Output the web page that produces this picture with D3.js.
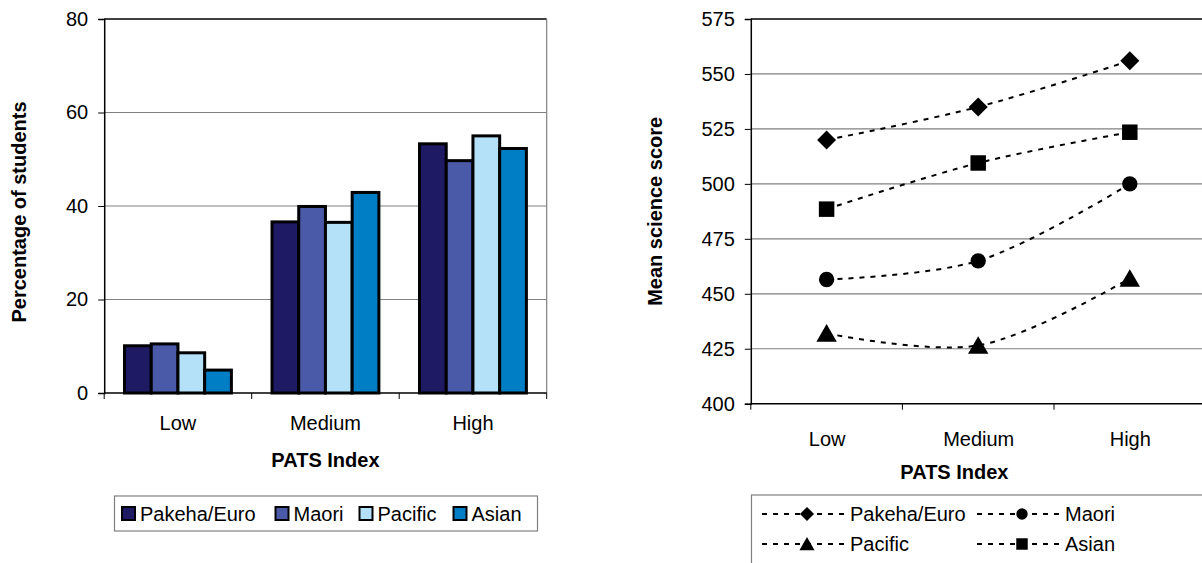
<!DOCTYPE html>
<html><head><meta charset="utf-8">
<script src="https://cdn.jsdelivr.net/npm/d3@7"></script>
<style>
body{margin:0;background:#fff;}
svg{display:block;font-family:"Liberation Sans",Arial,sans-serif;}
</style></head>
<body>
<svg id="c" width="1202" height="563"></svg>
<script>
const categories = ["Low","Medium","High"];
const seriesNames = ["Pakeha/Euro","Maori","Pacific","Asian"];
// Percentage of students (left chart)
const pctPakeha = [10.1, 36.6, 53.3];
const pctMaori = [10.5, 39.9, 49.7];
const pctPacific = [8.6, 36.5, 55.0];
const pctAsian = [4.9, 42.9, 52.3];
// Mean science score (right chart)
const scorePakeha = [520, 535, 556];
const scoreMaori = [456.5, 465, 500];
const scorePacific = [432, 426.5, 457];
const scoreAsian = [488.5, 509.5, 523.5];
const pctTicks = [0,20,40,60,80];
const scoreTicks = [400,425,450,475,500,525,550,575];
const barColors = ["#1f1a64","#4b5aa8","#b4e1f7","#007ec5"];
const markerTypes = ["diamond","circle","triangle","square"];

const pctSeries = [pctPakeha,pctMaori,pctPacific,pctAsian];
const scoreSeries = [scorePakeha,scoreMaori,scorePacific,scoreAsian];

const svg = d3.select("#c");
const FS = 20;

function marker(g, type, cx, cy, scale){
  if(type==="diamond"){
    g.append("path").attr("d",d3.symbol().type(d3.symbolSquare).size(180*scale)())
      .attr("transform",`translate(${cx},${cy}) rotate(45)`).attr("fill","#000");
  } else if(type==="circle"){
    g.append("path").attr("d",d3.symbol().type(d3.symbolCircle).size(185*scale)())
      .attr("transform",`translate(${cx},${cy})`).attr("fill","#000");
  } else if(type==="triangle"){
    g.append("path").attr("d",d3.symbol().type(d3.symbolTriangle).size(180*scale)())
      .attr("transform",`translate(${cx},${cy+2.5*Math.sqrt(scale)})`).attr("fill","#000");
  } else {
    g.append("path").attr("d",d3.symbol().type(d3.symbolSquare).size(240*scale)())
      .attr("transform",`translate(${cx},${cy})`).attr("fill","#000");
  }
}

// ---------- LEFT CHART ----------
{
  const L=104.2, R=546.7, T=19, B=393;
  const x0 = d3.scaleBand().domain(categories).range([L,R]);
  const x1 = d3.scaleBand().domain(seriesNames).range([0,x0.bandwidth()]).paddingInner(0).paddingOuter(0.76);
  const y = d3.scaleLinear().domain([0,80]).range([B,T]);
  const g = svg.append("g");
  g.selectAll("line.grid").data(pctTicks.filter(d=>d>0 && d<80)).join("line")
    .attr("x1",L).attr("x2",R).attr("y1",d=>y(d)).attr("y2",d=>y(d))
    .attr("stroke","#808080").attr("stroke-width",1.2);
  g.append("line").attr("x1",L).attr("x2",R).attr("y1",T).attr("y2",T).attr("stroke","#000").attr("stroke-width",1.5);
  g.append("line").attr("x1",R).attr("x2",R).attr("y1",T).attr("y2",B).attr("stroke","#808080").attr("stroke-width",1.2);
  categories.forEach((c,ci)=>{
    seriesNames.forEach((s,si)=>{
      g.append("rect").attr("x",x0(c)+x1(s)).attr("y",y(pctSeries[si][ci]))
       .attr("width",x1.bandwidth()).attr("height",B-y(pctSeries[si][ci]))
       .attr("fill",barColors[si]).attr("stroke","#000").attr("stroke-width",3);
    });
  });
  const ya = g.append("g").attr("transform",`translate(${L},0)`)
    .call(d3.axisLeft(y).tickValues(pctTicks).tickSize(6).tickPadding(10));
  ya.select(".domain").attr("stroke","#000").attr("stroke-width",1.5);
  ya.selectAll("text").attr("font-size",FS).attr("fill","#000").attr("font-family","Liberation Sans, Arial");
  ya.selectAll(".tick line").attr("stroke","#000");
  const xa = g.append("g").attr("transform",`translate(0,${B})`)
    .call(d3.axisBottom(x0).tickSize(0).tickPadding(23));
  xa.select(".domain").remove();
  xa.selectAll("text").attr("font-size",FS).attr("fill","#000").attr("font-family","Liberation Sans, Arial");
  g.append("line").attr("x1",L).attr("x2",R).attr("y1",B).attr("y2",B).attr("stroke","#000").attr("stroke-width",1.5);
  const bounds = [L, ...categories.map(c=>x0(c)+x0.bandwidth())];
  g.selectAll("line.xt").data(bounds).join("line").attr("x1",d=>d).attr("x2",d=>d).attr("y1",B).attr("y2",B+6).attr("stroke","#000");
  g.append("text").attr("x",(L+R)/2).attr("y",467).attr("text-anchor","middle").attr("font-weight","bold").attr("font-size",FS).text("PATS Index");
  g.append("text").attr("transform",`translate(26,${(T+B)/2+6}) rotate(-90)`).attr("text-anchor","middle").attr("font-weight","bold").attr("font-size",FS).text("Percentage of students");
  g.append("rect").attr("x",114.5).attr("y",496).attr("width",423).attr("height",35).attr("fill","#fff").attr("stroke","#808080").attr("stroke-width",1.2);
  const lx = [122, 275.5, 359.5, 453.5];
  seriesNames.forEach((s,i)=>{
    g.append("rect").attr("x",lx[i]).attr("y",507).attr("width",13).attr("height",13).attr("fill",barColors[i]).attr("stroke","#000").attr("stroke-width",2);
    g.append("text").attr("x",lx[i]+18).attr("y",521).attr("font-size",FS).text(s);
  });
}

// ---------- RIGHT CHART ----------
{
  const L=750.8, R=1205.6, T=19, B=403.7;
  const x = d3.scalePoint().domain(categories).range([L,R]).padding(0.5);
  const xb = d3.scaleBand().domain(categories).range([L,R]);
  const y = d3.scaleLinear().domain([400,575]).range([B,T]);
  const g = svg.append("g");
  g.selectAll("line.grid").data(scoreTicks.filter(d=>d>400 && d<575)).join("line")
    .attr("x1",L).attr("x2",R).attr("y1",d=>y(d)).attr("y2",d=>y(d))
    .attr("stroke","#808080").attr("stroke-width",1.2);
  g.append("line").attr("x1",L).attr("x2",R).attr("y1",T).attr("y2",T).attr("stroke","#000").attr("stroke-width",1.5);
  const ya = g.append("g").attr("transform",`translate(${L},0)`)
    .call(d3.axisLeft(y).tickValues(scoreTicks).tickSize(6).tickPadding(10));
  ya.select(".domain").attr("stroke","#000").attr("stroke-width",1.5);
  ya.selectAll("text").attr("font-size",FS).attr("fill","#000").attr("font-family","Liberation Sans, Arial");
  ya.selectAll(".tick line").attr("stroke","#000");
  const xa = g.append("g").attr("transform",`translate(0,${B})`)
    .call(d3.axisBottom(x).tickSize(0).tickPadding(28));
  xa.select(".domain").remove();
  xa.selectAll("text").attr("font-size",FS).attr("fill","#000").attr("font-family","Liberation Sans, Arial");
  g.append("line").attr("x1",L).attr("x2",R).attr("y1",B).attr("y2",B).attr("stroke","#000").attr("stroke-width",1.5);
  const bounds = [L, ...categories.map(c=>xb(c)+xb.bandwidth())];
  g.selectAll("line.xt").data(bounds).join("line").attr("x1",d=>d).attr("x2",d=>d).attr("y1",B).attr("y2",B+6).attr("stroke","#000");
  const line = d3.line().x((d,i)=>x(categories[i])).y(d=>y(d)).curve(d3.curveCatmullRom.alpha(0.5));
  scoreSeries.forEach((vals,si)=>{
    g.append("path").attr("d",line(vals)).attr("fill","none").attr("stroke","#000").attr("stroke-width",2).attr("stroke-dasharray","5,6");
  });
  scoreSeries.forEach((vals,si)=>{
    vals.forEach((v,i)=>marker(g, markerTypes[si], x(categories[i]), y(v), 1));
  });
  g.append("text").attr("x",(L+1130)/2+14).attr("y",479).attr("text-anchor","middle").attr("font-weight","bold").attr("font-size",FS).text("PATS Index");
  g.append("text").attr("transform",`translate(662,${(T+B)/2}) rotate(-90)`).attr("text-anchor","middle").attr("font-weight","bold").attr("font-size",FS).text("Mean science score");
  g.append("rect").attr("x",751.5).attr("y",495).attr("width",500).attr("height",100).attr("fill","#fff").attr("stroke","#808080").attr("stroke-width",1.2);
  const leg = [[762,514],[977,514],[762,544],[977,544]];
  seriesNames.forEach((s,si)=>{
    const [lx,ly]=leg[si];
    g.append("line").attr("x1",lx).attr("x2",lx+86).attr("y1",ly).attr("y2",ly).attr("stroke","#000").attr("stroke-width",2).attr("stroke-dasharray","5,6");
    marker(g, markerTypes[si], lx+45, ly, 0.55);
    g.append("text").attr("x",lx+88).attr("y",ly+7).attr("font-size",FS).text(s);
  });
}
</script>
</body></html>
